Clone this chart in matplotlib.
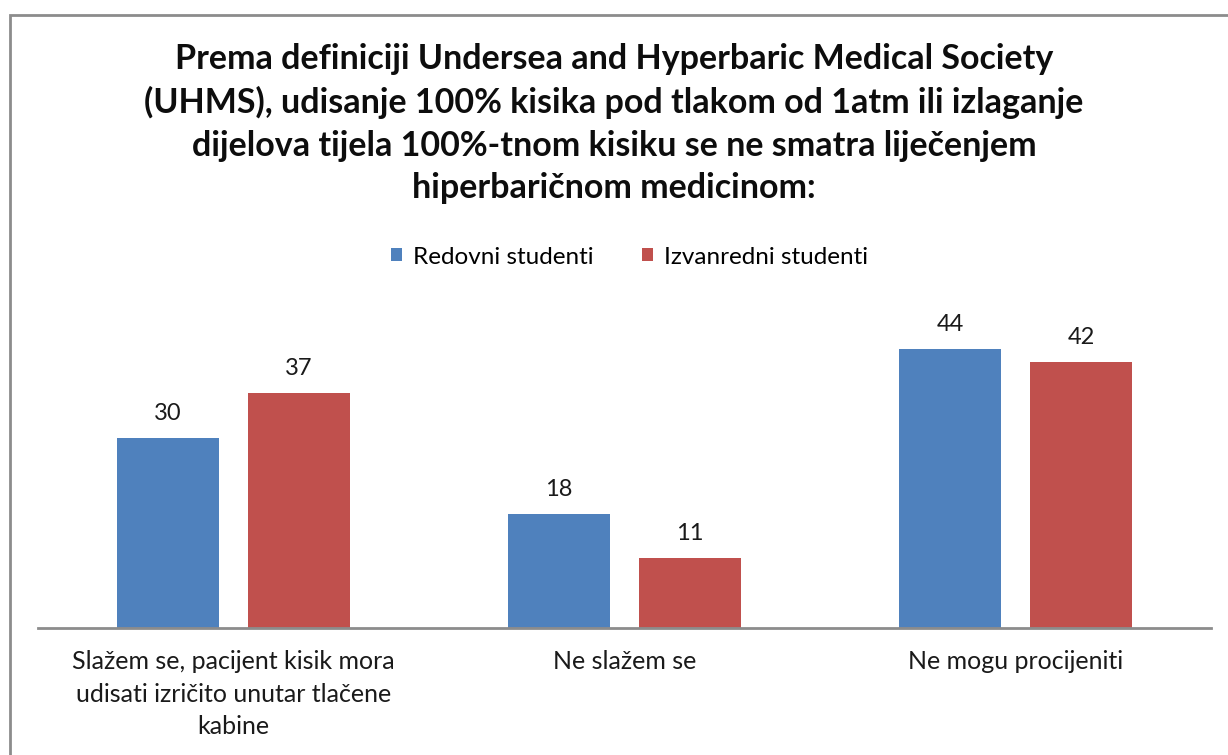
import matplotlib
matplotlib.use('Agg')
import matplotlib.pyplot as plt
import numpy as np
from matplotlib.patches import Rectangle

plt.rcParams['font.family'] = ['Lato', 'DejaVu Sans']

categories = ['Slažem se, pacijent kisik mora\nudisati izričito unutar tlačene\nkabine',
              'Ne slažem se',
              'Ne mogu procijeniti']
redovni = [30, 18, 44]
izvanredni = [37, 11, 42]
series_names = ['Redovni studenti', 'Izvanredni studenti']
colors = ['#4F81BD', '#C0504D']
title = ('Prema definiciji Undersea and Hyperbaric Medical Society\n'
         '(UHMS), udisanje 100% kisika pod tlakom od 1atm ili izlaganje\n'
         'dijelova tijela 100%-tnom kisiku se ne smatra liječenjem\n'
         'hiperbaričnom medicinom:')

fig = plt.figure(figsize=(12.28, 7.55), dpi=100)
fig.patches.append(Rectangle((10 / 1228, -0.05), 1.2, (745 + 40) / 755 - 0.01,
                             transform=fig.transFigure, fill=False,
                             edgecolor='#8c8c8c', linewidth=2, zorder=0))

ax = fig.add_axes([38 / 1228, 127 / 755, 1173 / 1228, 0.42])
x = np.arange(len(categories))
w = 0.263
off = 0.1675
b1 = ax.bar(x - off, redovni, w, color=colors[0], label=series_names[0])
b2 = ax.bar(x + off, izvanredni, w, color=colors[1], label=series_names[1])
for bars in (b1, b2):
    ax.bar_label(bars, padding=10, fontsize=17, color='#1a1a1a')

ax.set_xlim(-0.5, 2.5)
ax.set_ylim(0, 50)
ax.set_yticks([])
ax.set_xticks(x)
ax.set_xticklabels(categories, fontsize=18, color='#1a1a1a', linespacing=1.5)
ax.tick_params(axis='x', length=0, pad=16)
for s in ['top', 'right', 'left']:
    ax.spines[s].set_visible(False)
ax.spines['bottom'].set_color('#8c8c8c')
ax.spines['bottom'].set_linewidth(2)

fig.text(0.5, 1 - 123.5 / 755, title, ha='center', va='center', fontsize=24.5,
         fontweight='bold', linespacing=1.41, color='#0d0d0d')
fig.legend(loc='center', bbox_to_anchor=(0.5126, 1 - 257 / 755), ncol=2,
           frameon=False, fontsize=17.5, handlelength=0.45, handleheight=0.45,
           columnspacing=2.0, handletextpad=0.45)

fig.savefig('out.png', dpi=100)
